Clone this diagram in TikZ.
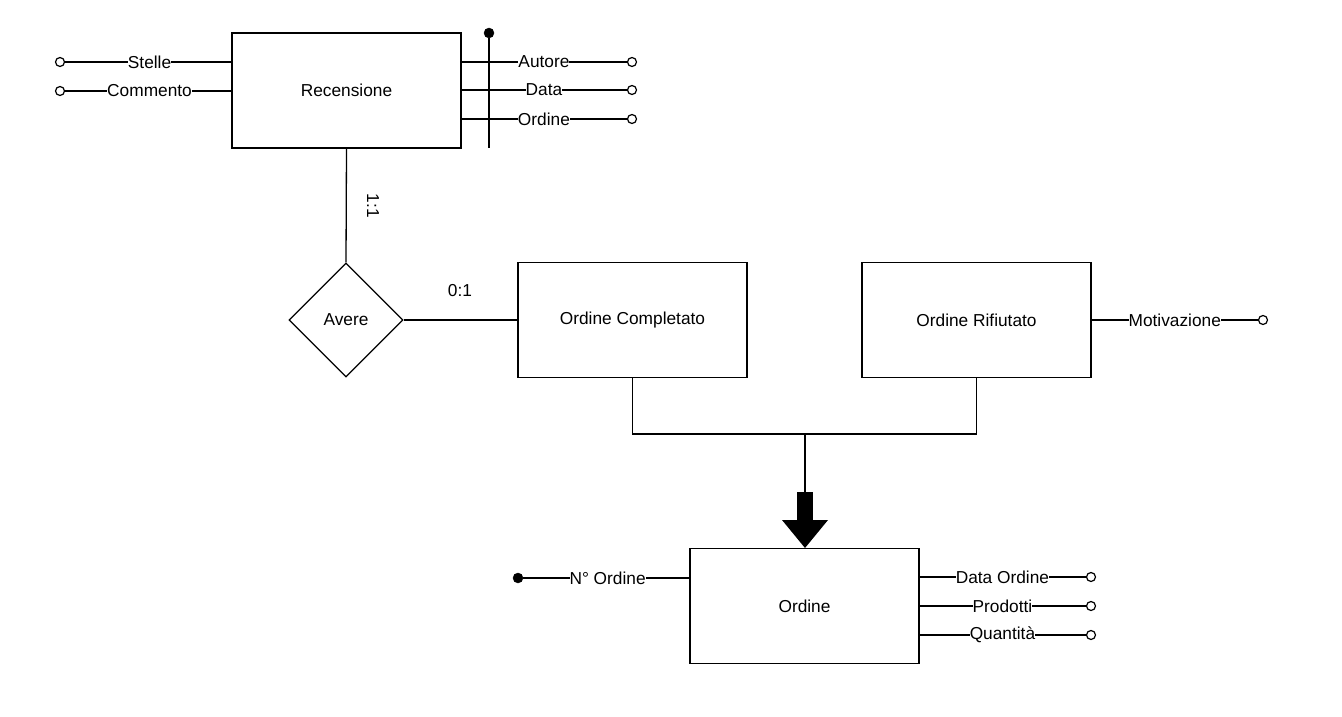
\documentclass[tikz,border=0pt]{standalone}
\usepackage{fontspec}
\setmainfont{Liberation Sans}
\usetikzlibrary{shapes.geometric}
\begin{document}
\begin{tikzpicture}[x=1pt,y=-1pt,
  every node/.style={font=\fontsize{17.3}{20}\selectfont},
  ent/.style={draw, line width=1.3pt, minimum width=229pt, minimum height=115pt, inner sep=0pt},
  rel/.style={draw, diamond, line width=1.3pt, minimum width=114pt, minimum height=114pt, inner sep=0pt},
  ln/.style={line width=1.3pt},
  lbl/.style={fill=white, inner sep=0pt},
  oc/.style={circle, draw, line width=1.2pt, fill=white, minimum size=9pt, inner sep=0pt},
  fc/.style={circle, draw, fill=black, minimum size=10pt, inner sep=0pt}]
\useasboundingbox (0,0) rectangle (1342,717);

% Entities
\node[ent] (rec) at (346.5,90.5) {Recensione};
\node[rel] (avere) at (346,320) {Avere};
\node[ent] (oc) at (632.5,320) {Ordine Completato};
\node[ent] (or) at (976.5,320) {Ordine Rifiutato};
\node[ent] (ord) at (804.5,606) {Ordine};

% Recensione left attributes
\node[oc] (cs) at (60,62) {};
\node[oc] (cc) at (60,91) {};
\coordinate (rs) at (232,62);
\coordinate (rc) at (232,91);
\draw[ln] (cs) -- (rs) node[lbl, midway, xshift=1pt] (ls) {Stelle};
\draw[ln] (cc) -- (rc) node[lbl, midway, xshift=1pt] (lc) {Commento};

% Recensione right attributes
\coordinate (ra) at (461,62);
\coordinate (rd) at (461,90);
\coordinate (ro) at (461,119);
\node[oc] (ca) at (632,62) {};
\node[oc] (cd) at (632,90) {};
\node[oc] (co) at (632,119) {};
\draw[ln] (ra) -- (ca) node[lbl, midway] (la) {Autore};
\draw[ln] (rd) -- (cd) node[lbl, midway] (ld) {Data};
\draw[ln] (ro) -- (co) node[lbl, midway] (lo) {Ordine};
% composite key bar
\node[fc] (kt) at (489,33) {};
\coordinate (kb) at (489,148);
\draw[ln] (kt) -- (kb);

% Relationship
\draw[ln] (rec.south) -- (avere.north);
\node[rotate=-90] (c11) at (373,206) {1:1};
\draw[ln] (avere.east) -- (oc.west);
\node (c01) at (460,291) {0:1};

% Generalisation
\coordinate (j) at (805,434);
\draw[ln] (oc.south) |- (j) -| (or.south);
\coordinate (as) at (805,492);
\draw[ln] (j) -- (as);
\fill (797,492) rectangle (813,520.5);
\fill (782,520) -- (828,520) -- (805,548) -- cycle;

% Motivazione
\node[oc] (cm) at (1263,320) {};
\draw[ln] (or.east) -- (cm) node[lbl, midway] (lm) {Motivazione};

% Ordine attributes
\node[fc] (cn) at (518,578) {};
\coordinate (on) at (690,578);
\draw[ln] (cn) -- (on) node[lbl, midway, xshift=1pt] (ln1) {N° Ordine};
\coordinate (o1) at (919,577);
\coordinate (o2) at (919,606);
\coordinate (o3) at (919,635);
\node[oc] (c1) at (1091,577) {};
\node[oc] (c2) at (1091,606) {};
\node[oc] (c3) at (1091,635) {};
\draw[ln] (o1) -- (c1) node[lbl, midway] (l1) {Data Ordine};
\draw[ln] (o2) -- (c2) node[lbl, midway] (l2) {Prodotti};
\draw[ln] (o3) -- (c3) node[lbl, midway] (l3) {Quantità};
\end{tikzpicture}
\end{document}
